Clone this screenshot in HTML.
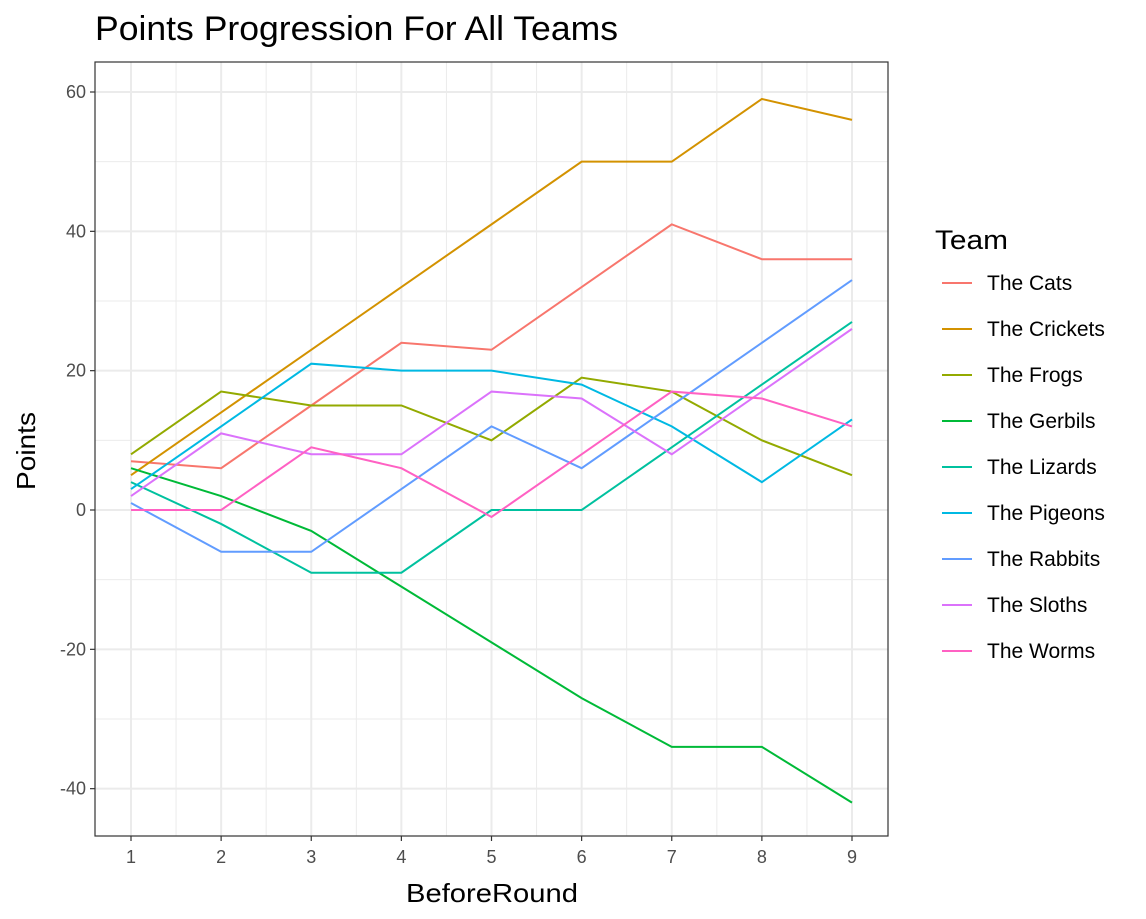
<!DOCTYPE html>
<html><head><meta charset="utf-8"><style>
body{margin:0;background:#fff;font-family:"Liberation Sans",sans-serif;}
</style></head><body>
<svg id="chart" width="1146" height="914" xmlns="http://www.w3.org/2000/svg" font-family="Liberation Sans, sans-serif">
<text x="95" y="40" font-size="34" textLength="523" lengthAdjust="spacingAndGlyphs" fill="#000">Points Progression For All Teams</text>
<g id="grid"></g><g id="lines"></g><g id="axes"></g><g id="legend"></g>
</svg>
<script>
const rounds=[1,2,3,4,5,6,7,8,9];
const teams=["The Cats","The Crickets","The Frogs","The Gerbils","The Lizards","The Pigeons","The Rabbits","The Sloths","The Worms"];
const colors=["#F8766D","#D39200","#93AA00","#00BA38","#00C19F","#00B9E3","#619CFF","#DB72FB","#FF61C3"];
const cats=[7,6,15,24,23,32,41,36,36];
const crickets=[5,14,23,32,41,50,50,59,56];
const frogs=[8,17,15,15,10,19,17,10,5];
const gerbils=[6,2,-3,-11,-19,-27,-34,-34,-42];
const lizards=[4,-2,-9,-9,0,0,9,18,27];
const pigeons=[3,12,21,20,20,18,12,4,13];
const rabbits=[1,-6,-6,3,12,6,15,24,33];
const sloths=[2,11,8,8,17,16,8,17,26];
const worms=[0,0,9,6,-1,8,17,16,12];
const series=[cats,crickets,frogs,gerbils,lizards,pigeons,rabbits,sloths,worms];
const yTicks=[-40,-20,0,20,40,60];
const yMinor=[-30,-10,10,30,50];
const L=95,R=888,T=62,B=836;
const x=v=>131+(v-1)*(852-131)/8;
const y=v=>510-v*(510-92)/60;
const NS="http://www.w3.org/2000/svg";
function mk(tag,attrs,parent,txt){const e=document.createElementNS(NS,tag);for(const k in attrs)e.setAttribute(k,attrs[k]);if(txt!==undefined)e.textContent=txt;document.getElementById(parent).appendChild(e);return e;}
const g='grid';
yMinor.forEach(v=>{const e=mk('line',{x1:L,x2:R,y1:y(v),y2:y(v),stroke:'#ebebeb','stroke-width':1},g);});
rounds.slice(0,8).forEach(v=>{const e=mk('line',{x1:x(v+0.5),x2:x(v+0.5),y1:T,y2:B,stroke:'#ebebeb','stroke-width':1},g);});
yTicks.forEach(v=>{const e=mk('line',{x1:L,x2:R,y1:y(v),y2:y(v),stroke:'#ebebeb','stroke-width':2},g);});
rounds.forEach(v=>{const e=mk('line',{x1:x(v),x2:x(v),y1:T,y2:B,stroke:'#ebebeb','stroke-width':2},g);});
series.forEach((s,i)=>{const e=mk('polyline',{points:s.map((v,j)=>x(rounds[j])+','+y(v)).join(' '),fill:'none',stroke:colors[i],'stroke-width':2},'lines');});
const a='axes';
const p=mk('rect',{x:L,y:T,width:R-L,height:B-T,fill:'none',stroke:'#333','stroke-width':1.2},a);
yTicks.forEach(v=>{mk('line',{x1:L-5,x2:L,y1:y(v),y2:y(v),stroke:'#333','stroke-width':1.2},a);const t=mk('text',{x:L-9,y:y(v)+6,'font-size':18,fill:'#4d4d4d','text-anchor':'end'},a,v);});
rounds.forEach(v=>{mk('line',{x1:x(v),x2:x(v),y1:B,y2:B+5,stroke:'#333','stroke-width':1.2},a);const t=mk('text',{x:x(v),y:B+27,'font-size':18,fill:'#4d4d4d','text-anchor':'middle'},a,v);});
let t=mk('text',{x:406,y:902,'font-size':26,textLength:172,lengthAdjust:'spacingAndGlyphs',fill:'#000'},a,'BeforeRound');
t=mk('text',{x:0,y:0,'font-size':26,'text-anchor':'middle',textLength:78,lengthAdjust:'spacingAndGlyphs',fill:'#000',transform:'translate(35,'+((T+B)/2+2)+') rotate(-90)'},a,'Points');
t=mk('text',{x:935,y:249,'font-size':27,textLength:73,lengthAdjust:'spacingAndGlyphs',fill:'#000'},'legend','Team');
teams.forEach((n,i)=>{const yy=283+i*46;const l=mk('line',{x1:942,x2:972,y1:yy,y2:yy,stroke:colors[i],'stroke-width':2},'legend');const tx=mk('text',{x:987,y:yy+7,'font-size':21,fill:'#000'},'legend',n);});
</script>
</body></html>
